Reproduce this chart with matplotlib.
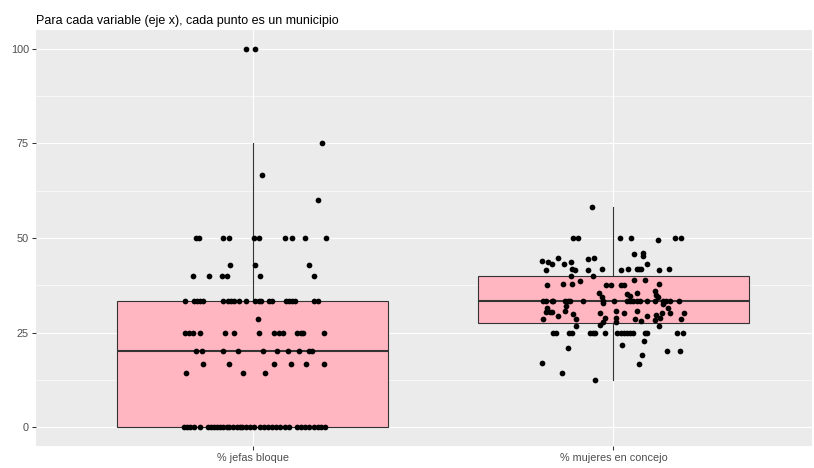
import matplotlib
matplotlib.use("Agg")
import matplotlib.pyplot as plt
import numpy as np

plt.rcParams["font.family"] = ["Liberation Sans", "DejaVu Sans"]

categories = ["% jefas bloque", "% mujeres en concejo"]
y_ticks = [0, 25, 50, 75, 100]
title = "Para cada variable (eje x), cada punto es un municipio"

# Municipal values for "% jefas bloque" and the horizontal jitter given to each point
jefas_values = (
    [100, 100, 75, 66.7, 60]
    + [50] * 10
    + [42.9] * 3
    + [40] * 6
    + [33.3] * 22
    + [28.6]
    + [25] * 14
    + [20] * 10
    + [16.7] * 6
    + [14.3] * 3
    + [0] * 36
)
jefas_jitter = [
    -0.019, 0.006, 0.193, 0.025, 0.182,
    -0.157, -0.149, -0.083, -0.064, 0.003, 0.017, 0.089, 0.108, 0.146, 0.204,
    -0.062, 0.008, 0.156,
    -0.166, -0.120, -0.085, -0.072, 0.022, 0.169,
    -0.186, -0.161, -0.155, -0.146, -0.136, -0.081, -0.069, -0.060, -0.051, -0.037, -0.019,
    0.007, 0.017, 0.023, 0.046, 0.055, 0.094, 0.101, 0.110, 0.118, 0.170, 0.180,
    0.014,
    -0.186, -0.175, -0.164, -0.147, -0.075, -0.051, 0.017, 0.060, 0.074, 0.083, 0.124, 0.133, 0.140, 0.199,
    -0.157, -0.141, -0.083, -0.040, 0.028, 0.067, 0.099, 0.129, 0.157, 0.166,
    -0.138, -0.066, 0.060, 0.106, 0.147, 0.199,
    -0.184, -0.027, 0.035,
    -0.191, -0.182, -0.174, -0.163, -0.146, -0.124, -0.116, -0.108, -0.099, -0.091, -0.083, -0.072,
    -0.064, -0.055, -0.044, -0.036, -0.028, -0.017, -0.006, 0.003, 0.022, 0.033, 0.044, 0.055,
    0.066, 0.077, 0.091, 0.102, 0.124, 0.135, 0.146, 0.157, 0.169, 0.180, 0.191, 0.202,
]

# Municipal values for "% mujeres en concejo" and their jitter
mujeres_values = [
    58.3,
    50, 50, 50, 50, 49.6, 50, 50,
    45.8, 46.1, 45.2,
    44.6, 44.7, 44.5,
    44, 43.7, 43, 43, 43.7, 43.2,
    41.6, 41.9, 41.6, 41.6, 41.9, 41.6, 41.9, 41.7, 41.7, 41.7, 41.6, 41.9,
    40, 40,
    37.6, 37.8, 37.8, 38.7, 37.7, 37.7, 37.7, 37.7, 39, 39, 37.8,
    35.5, 35.3, 35.5, 35.9, 35,
    34.4, 34.6, 34.4,
    33.3, 33.3, 33.3, 33.3, 33.3, 33.3, 33.3, 33.3, 33.3, 33.3, 33.3,
    33.3, 33.3, 33.3, 33.3, 33.3, 33.3, 33.3, 33.3, 33.3, 33.3,
    32.1, 32.8, 32.6,
    31.5, 31.5,
    30.4, 30.4, 30.4, 30.6, 30, 30.3, 30.8, 30.3, 30.6, 30.3, 30.3, 30.3,
    29.4, 29.4, 29.7,
    28.6, 28.6, 28.8, 28.8, 27.9, 28.6, 28.1, 28.2, 28.8, 28.6, 27.9,
    26.8, 27, 26.8,
    25, 25, 25, 25, 25, 25, 25, 25, 25, 25, 25, 25, 25, 25, 25, 25, 25, 25,
    21, 21.6, 22.8, 20, 20, 19, 16.9, 16.6, 14.3, 12.5,
]
mujeres_jitter = [
    -0.059,
    -0.113, -0.097, 0.019, 0.048, 0.123, 0.171, 0.188,
    0.057, 0.083, 0.083,
    -0.153, -0.053, -0.070,
    -0.199, -0.182, -0.169, -0.136, -0.118, 0.093,
    -0.188, -0.116, -0.107, -0.070, -0.033, 0.020, 0.041, 0.064, 0.070, 0.077, 0.125, 0.153,
    -0.118, -0.056,
    -0.185, -0.139, -0.116, -0.093, -0.021, -0.006, 0.022, 0.030, 0.057, 0.088, 0.125,
    -0.040, 0.038, 0.064, 0.114, 0.119,
    -0.033, 0.045, 0.123,
    -0.196, -0.187, -0.171, -0.167, -0.135, -0.125, -0.121, -0.084, -0.028, 0.002, 0.038,
    0.045, 0.054, 0.065, 0.073, 0.094, 0.114, 0.137, 0.146, 0.156, 0.181,
    -0.132, -0.030, 0.137,
    -0.185, 0.151,
    -0.187, -0.176, -0.169, -0.135, -0.111, -0.038, 0.006, 0.028, 0.064, 0.135, 0.156, 0.195,
    -0.153, 0.093, 0.119,
    -0.196, -0.104, -0.024, 0.006, 0.006, 0.059, 0.075, 0.114, 0.130, 0.186, -0.030,
    -0.104, -0.037, 0.126,
    -0.167, -0.160, -0.124, -0.116, -0.066, -0.058, -0.050, -0.024, 0.011, 0.020, 0.029,
    0.037, 0.046, 0.054, 0.086, 0.093, 0.177, 0.193,
    -0.125, 0.024, 0.084, 0.149, 0.183, 0.080, -0.198, 0.070, -0.142, -0.052,
]

# Box summaries: lower whisker, Q1, median, Q3, upper whisker
whisker_low = [0, 12.5]
q1 = [0, 27.5]
median = [20, 33.3]
q3 = [33.3, 40]
whisker_high = [75, 58.3]

fig = plt.figure(figsize=(8.14, 4.68), dpi=100)
ax = fig.add_axes([36 / 814, 1 - 446 / 468, (812 - 36) / 814, (446 - 30) / 468])
ax.set_facecolor("#EBEBEB")

ax.set_xlim(0.4, 2.55)
ax.set_ylim(-5, 105)

# grid
for y in y_ticks:
    ax.axhline(y, color="white", lw=0.85, zorder=0)
for y in np.array(y_ticks[:-1]) + 12.5:
    ax.axhline(y, color="white", lw=0.45, zorder=0)
for x in (1, 2):
    ax.axvline(x, color="white", lw=0.85, zorder=0)

stats = []
for i in range(len(categories)):
    stats.append(dict(whislo=whisker_low[i], q1=q1[i], med=median[i],
                      q3=q3[i], whishi=whisker_high[i], fliers=[]))
ax.bxp(stats, positions=[1, 2], widths=0.75, patch_artist=True, showcaps=False,
       showfliers=False, manage_ticks=False,
       boxprops=dict(facecolor="#FFB6C1", edgecolor="#333333", linewidth=0.8),
       whiskerprops=dict(color="#333333", linewidth=0.8),
       medianprops=dict(color="#333333", linewidth=1.5),
       zorder=2)

ax.scatter(1 + np.array(jefas_jitter), jefas_values, s=17, color="black",
           linewidths=0, zorder=3)
ax.scatter(2 + np.array(mujeres_jitter), mujeres_values, s=17, color="black",
           linewidths=0, zorder=3)

for s in ax.spines.values():
    s.set_visible(False)

ax.set_yticks(y_ticks)
ax.set_yticklabels([str(v) for v in y_ticks])
ax.set_xticks([1, 2])
ax.set_xticklabels(categories)
ax.tick_params(axis="both", colors="#333333", length=3, width=0.75,
               labelcolor="#4D4D4D", labelsize=7.8, pad=2)

fig.text(36 / 814, 1 - 24 / 468, title, fontsize=9.0, color="black",
         ha="left", va="baseline")

fig.savefig("out.png", dpi=100, facecolor="white")
